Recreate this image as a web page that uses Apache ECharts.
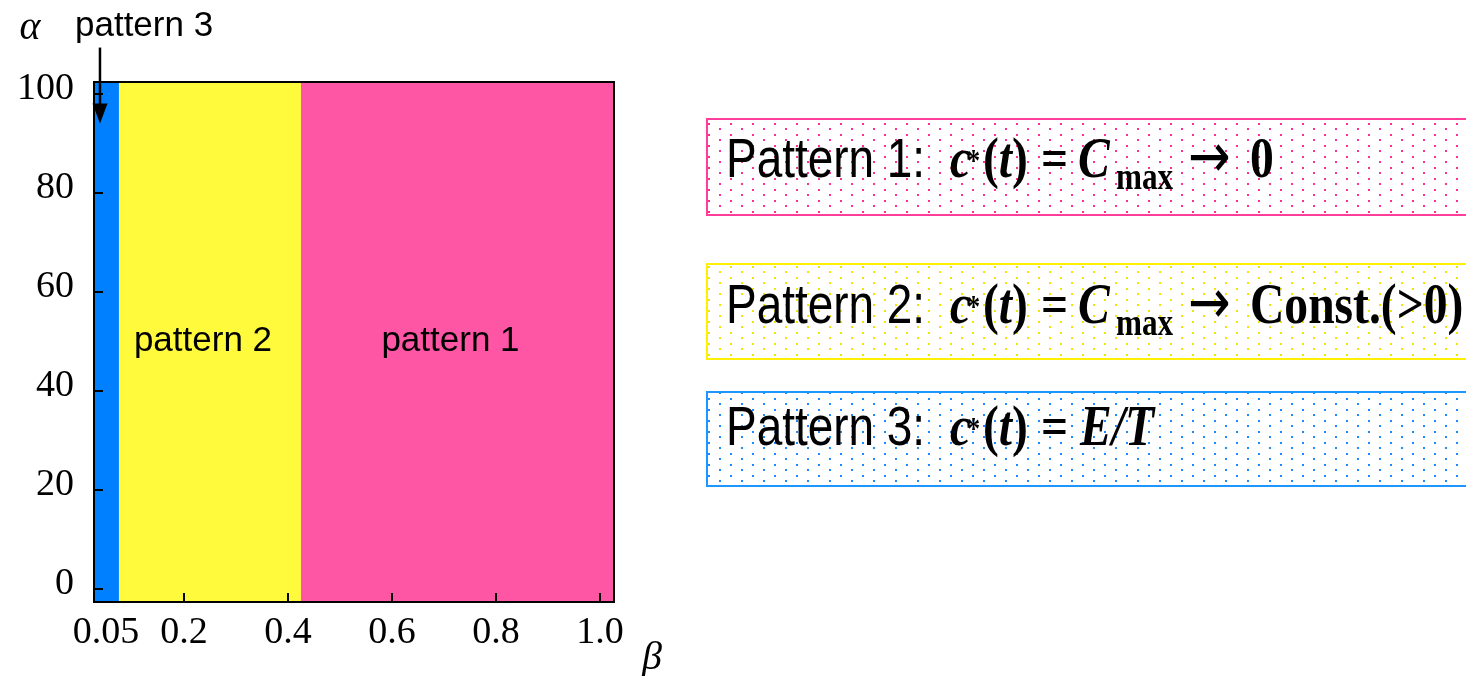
<!DOCTYPE html>
<html><head><meta charset="utf-8">
<script src="https://cdn.jsdelivr.net/npm/echarts@6/dist/echarts.min.js"></script>
<style>html,body{margin:0;padding:0;background:#fff}#c{width:1466px;height:676px}</style>
</head><body><div id="c"></div>
<script>
// ---- data ----
const regionNames = ['pattern 3', 'pattern 2', 'pattern 1'];
const betaStart = [0.027, 0.075, 0.425];
const betaEnd = [0.075, 0.425, 1.027];
const betaMin = 0.027, betaMax = 1.027;
const alphaMin = -2.7, alphaMax = 102.4;
const xTickValues = [0.2, 0.4, 0.6, 0.8, 1.0];
const xLabelValues = [0.05, 0.2, 0.4, 0.6, 0.8, 1.0];
const yTickValues = [0, 20, 40, 60, 80, 100];
const arrowBeta = 0.0385, arrowTipAlpha = 94;
const legendHeads = ['Pattern 1:', 'Pattern 2:', 'Pattern 3:'];

// ---- styles ----
const regionColors = ['#0080FF', '#FFFA3C', '#FF55A5'];
const boxColors = ['#FF3D9A', '#FFF000', '#1E96FF'];
const dotColors = ['#FF2E93', '#F2E600', '#1A8CFF'];

const chart = echarts.init(document.getElementById('c'));

const cv = document.createElement('canvas');
const ctx = cv.getContext('2d');
function textW(font, t) { ctx.font = font; ctx.textBaseline = 'alphabetic'; return ctx.measureText(t).width; }
function midOff(font) { ctx.font = font; ctx.textBaseline = 'middle'; const m = ctx.measureText('H'); ctx.textBaseline = 'alphabetic'; return m.actualBoundingBoxDescent; }
function dotPattern(color) {
  const c = document.createElement('canvas'); c.width = 22; c.height = 11;
  const g = c.getContext('2d'); g.fillStyle = color;
  g.fillRect(4, 2, 2, 2); g.fillRect(15, 7, 2, 2);
  return c;
}

const SX = 0.82;
const fonts = {
  sans: { font: '56px "Liberation Sans"', dy: 0 },
  bi: { font: 'italic bold 58px "Liberation Serif"', dy: 0 },
  b: { font: 'bold 58px "Liberation Serif"', dy: 0 },
  arr: { font: '62px "DejaVu Sans"', dy: 0 },
  sup: { font: 'bold 32px "Liberation Serif"', dy: -6 },
  sub: { font: 'bold 38px "Liberation Serif"', dy: 12 }
};
const tails = [
  [['C', 'bi', 1078], ['max', 'sub', 1116], ['\u2192', 'arr', 1188], ['0', 'b', 1250]],
  [['C', 'bi', 1078], ['max', 'sub', 1116], ['\u2192', 'arr', 1188], ['Const.(>0)', 'b', 1250]],
  [['E/T', 'bi', 1080]]
];
const boxTops = [119, 264, 392];
const boxHeights = [96, 95, 94];
const baselines = [177, 323, 445];

const graphics = [];
legendHeads.forEach((head, i) => {
  graphics.push({
    type: 'rect', z: 20,
    shape: { x: 707, y: boxTops[i], width: 820, height: boxHeights[i] },
    style: { fill: { image: dotPattern(dotColors[i]), repeat: 'repeat' }, stroke: boxColors[i], lineWidth: 2 }
  });
  const pieces = [[head, 'sans', 726], ['c', 'bi', 950], ['*', 'sup', 967], ['(', 'b', 983], ['t', 'bi', null], [')', 'b', null], ['=', 'b', 1041]].concat(tails[i]);
  let cursor = 0;
  pieces.forEach(p => {
    const f = fonts[p[1]];
    const x = p[2] != null ? p[2] : cursor;
    const w = textW(f.font, p[0]) * SX;
    cursor = x + w;
    graphics.push({
      type: 'text', z: 21, x: x, y: baselines[i] + f.dy - midOff(f.font), scaleX: SX,
      style: { text: p[0], font: f.font, fill: '#000', align: 'left', verticalAlign: 'middle' }
    });
  });
});

const option = {
  animation: false,
  grid: { left: 94, right: 852, top: 82, bottom: 74, outerBoundsMode: 'none', containLabel: false, show: true, z: 10, borderColor: '#000', borderWidth: 2, backgroundColor: 'transparent' },
  xAxis: {
    type: 'value', min: betaMin, max: betaMax, z: 10,
    name: '\u03B2', nameLocation: 'end', nameGap: 38,
    nameTextStyle: { fontFamily: 'Liberation Serif', fontStyle: 'italic', fontSize: 40, color: '#000', align: 'center', verticalAlign: 'top', lineHeight: 112 },
    axisLine: { show: true, onZero: false, lineStyle: { color: '#000', width: 2 } },
    axisTick: { show: true, inside: true, length: 9, customValues: xTickValues, lineStyle: { color: '#000', width: 2 } },
    axisLabel: { customValues: xLabelValues, margin: 12, fontFamily: 'Liberation Serif', fontSize: 38, color: '#000',
      formatter: v => (Math.abs(v - 0.05) < 1e-9 ? '0.05' : v.toFixed(1)) },
    splitLine: { show: false }
  },
  yAxis: {
    type: 'value', min: alphaMin, max: alphaMax, z: 10,
    name: '\u03B1', nameLocation: 'end', nameGap: 54,
    nameTextStyle: { fontFamily: 'Liberation Serif', fontStyle: 'italic', fontSize: 40, color: '#000', align: 'center', verticalAlign: 'middle', padding: [0, 128, 0, 0] },
    axisLine: { show: true, onZero: false, lineStyle: { color: '#000', width: 2 } },
    axisTick: { show: true, inside: true, length: 9, customValues: yTickValues, lineStyle: { color: '#000', width: 2 } },
    axisLabel: { customValues: yTickValues, margin: 20, fontFamily: 'Liberation Serif', fontSize: 38, color: '#000', verticalAlign: 'bottom', lineHeight: 10 },
    splitLine: { show: false }
  },
  series: [{
    type: 'custom',
    clip: false,
    data: regionNames.map((n, i) => [betaStart[i], betaEnd[i]]),
    encode: { x: [0, 1] },
    renderItem: function (params, api) {
      const i = params.dataIndex;
      const p0 = api.coord([api.value(0), alphaMax]);
      const p1 = api.coord([api.value(1), alphaMin]);
      const children = [{
        type: 'rect', shape: { x: p0[0], y: p0[1], width: p1[0] - p0[0], height: p1[1] - p0[1] },
        style: { fill: regionColors[i] }
      }];
      const lblFont = '35px "Liberation Sans"';
      if (i === 0) {
        const tip = api.coord([arrowBeta, arrowTipAlpha]);
        children.push({ type: 'line', shape: { x1: tip[0], y1: tip[1] - 76, x2: tip[0], y2: tip[1] - 18 }, style: { stroke: '#000', lineWidth: 2.5 } });
        children.push({ type: 'polygon', shape: { points: [[tip[0] - 7.5, tip[1] - 20], [tip[0] + 7.5, tip[1] - 20], [tip[0], tip[1]]] }, style: { fill: '#000' } });
        children.push({ type: 'text', x: tip[0] - 25, y: tip[1] - 97, style: { text: regionNames[0], font: lblFont, fill: '#000', align: 'left', verticalAlign: 'middle' } });
      } else {
        const c = api.coord([(api.value(0) + api.value(1)) / 2, (alphaMin + alphaMax) / 2]);
        children.push({ type: 'text', x: c[0] - 7, y: c[1] - 1, style: { text: regionNames[i], font: lblFont, fill: '#000', align: 'center', verticalAlign: 'middle' } });
      }
      return { type: 'group', children: children };
    }
  }],
  graphic: { elements: graphics }
};
chart.setOption(option);
</script>
</body></html>
